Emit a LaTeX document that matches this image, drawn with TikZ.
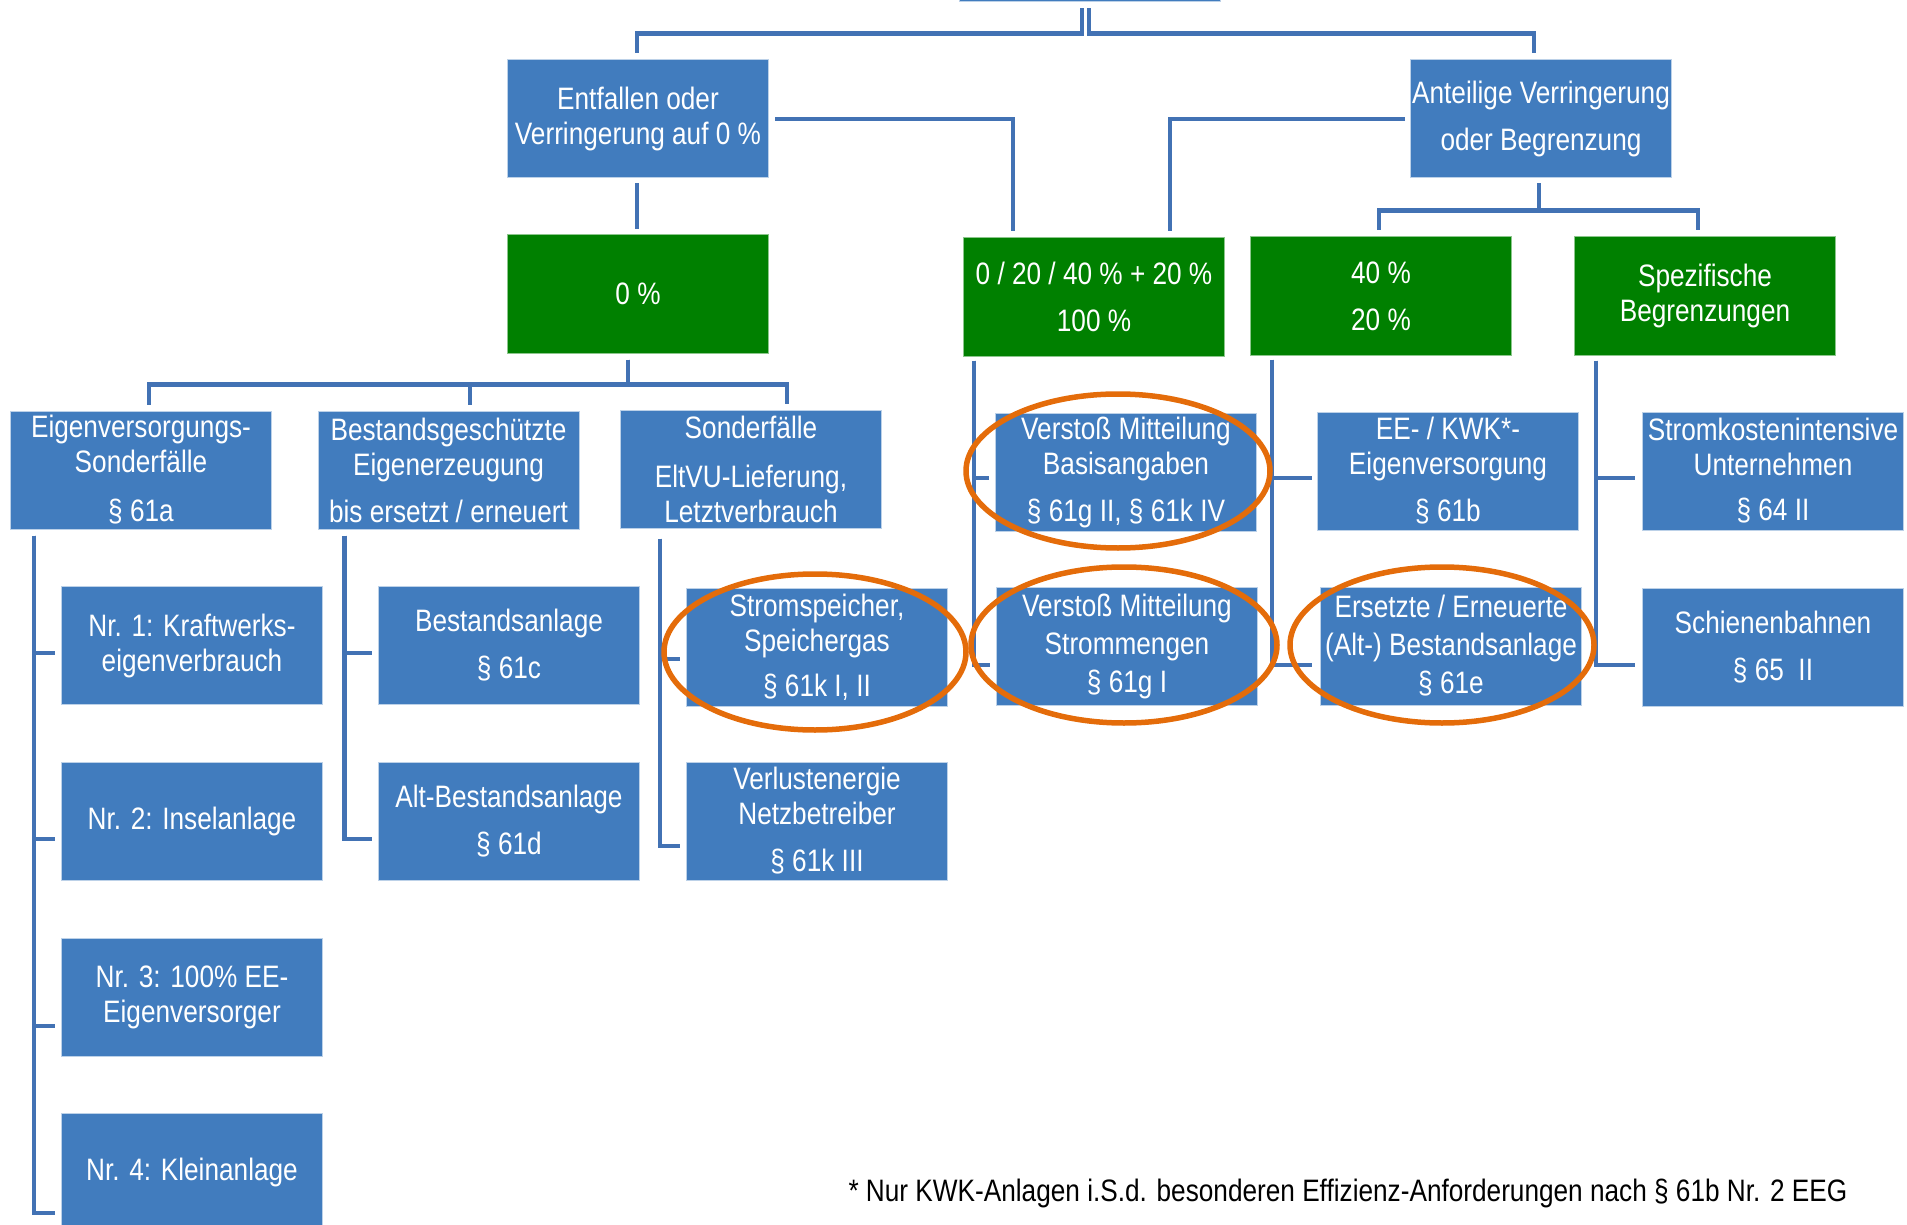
\documentclass[tikz,border=0pt]{standalone}
\usepackage{fontspec}
\setmainfont{Liberation Sans}[FakeStretch=0.845]
\definecolor{boxblue}{RGB}{65,124,190}
\definecolor{lineblue}{RGB}{66,114,180}
\definecolor{boxgreen}{RGB}{0,128,0}
\definecolor{ringorange}{RGB}{228,108,10}
\tikzset{
    box/.style={fill=boxblue, draw=boxblue!35, line width=1pt, text=white, align=center,
        minimum width=261pt, minimum height=118pt, inner sep=0pt, font=\fontsize{31}{35}\selectfont},
    gbox/.style={box, fill=boxgreen, draw=boxgreen!45},
    conn/.style={draw=lineblue, line width=4.5pt},
    ring/.style={draw=ringorange, line width=5.5pt},
}

\begin{document}
\begin{tikzpicture}[x=1pt, y=-1pt]
    \useasboundingbox (0,0) rectangle (1907,1225);
    \clip (0,0) rectangle (1907,1225);

    \node[box] (root) at (1090, -57) {};
    \node[box] (ent) at (638, 119) {Entfallen oder\\Verringerung auf 0 \%};
    \node[box] (ant) at (1541, 119) {Anteilige Verringerung\\[12pt]oder Begrenzung};

    \node[gbox] (p0) at (638, 294) {0 \%};
    \node[gbox] (p100) at (1094, 297) {0 / 20 / 40 \% + 20 \%\\[12pt]100 \%};
    \node[gbox] (p40) at (1381, 296) {40 \%\\[12pt]20 \%};
    \node[gbox] (spez) at (1705, 296) {Spezifische\\Begrenzungen};

    \node[box] (eig) at (141, 470) {Eigenversorgungs-\\Sonderfälle\\[14pt]§ 61a};
    \node[box] (best) at (448.5, 470) {Bestandsgeschützte\\Eigenerzeugung\\[12pt]bis ersetzt / erneuert};
    \node[box] (sond) at (751, 469) {Sonderfälle\\[14pt]EltVU-Lieferung,\\Letztverbrauch};
    \node[box] (vb) at (1126, 472) {Verstoß Mitteilung\\Basisangaben\\[12pt]§ 61g II, § 61k IV};
    \node[box] (eekwk) at (1448, 471) {EE- / KWK*-\\Eigenversorgung\\[12pt]§ 61b};
    \node[box] (skv) at (1773, 471) {Stromkostenintensive\\Unternehmen\\[10pt]§ 64 II};

    \node[box] (nr1) at (192, 645.5) {Nr. 1: Kraftwerks-\\eigenverbrauch};
    \node[box] (nr2) at (192, 821) {Nr. 2: Inselanlage};
    \node[box] (nr3) at (192, 997) {Nr. 3: 100\% EE-\\Eigenversorger};
    \node[box] (nr4) at (192, 1172) {Nr. 4: Kleinanlage};
    \node[box] (banl) at (509, 645.5) {Bestandsanlage\\[12pt]§ 61c};
    \node[box] (alt) at (509, 821) {Alt-Bestandsanlage\\[12pt]§ 61d};
    \node[box] (sps) at (817, 647) {Stromspeicher,\\Speichergas\\[10pt]§ 61k I, II};
    \node[box] (verl) at (817, 821) {Verlustenergie\\Netzbetreiber\\[12pt]§ 61k III};
    \node[box] (vs) at (1127, 646) {Verstoß Mitteilung\\[3pt]Strommengen\\[3pt]§ 61g I};
    \node[box] (ers) at (1451, 646) {Ersetzte / Erneuerte\\[3pt](Alt-) Bestandsanlage\\[3pt]§ 61e};
    \node[box] (sch) at (1773, 647) {Schienenbahnen\\[12pt]§ 65\ \ II};

    \node[anchor=west, font=\fontsize{31}{35}\selectfont] (note) at (845, 1193)
        {* Nur KWK-Anlagen i.S.d. besonderen Effizienz-Anforderungen nach § 61b Nr. 2 EEG};

    \draw[conn] ([xshift=-8pt,yshift=-6pt]root.south) -- ++(0,25) -| ([xshift=-1pt,yshift=6pt]ent.north);
    \draw[conn] ([xshift=-1pt,yshift=-6pt]root.south) -- ++(0,25) -| ([xshift=-7pt,yshift=6pt]ant.north);
    \draw[conn] ([xshift=-1pt,yshift=-5pt]ent.south) -- ([xshift=-1pt,yshift=5pt]p0.north);
    \draw[conn] ([xshift=6pt]ent.east) -| ([xshift=-81pt,yshift=6pt]p100.north);
    \draw[conn] ([xshift=-5pt]ant.west) -| ([xshift=76pt,yshift=6pt]p100.north);
    \draw[conn] ([xshift=-2pt,yshift=-5pt]ant.south) -- ++(0,27) -| ([xshift=-2pt,yshift=6pt]p40.north);
    \draw[conn] ([xshift=-2pt,yshift=-5pt]ant.south) -- ++(0,27) -| ([xshift=-7pt,yshift=6pt]spez.north);

    \draw[conn] ([xshift=-10pt,yshift=-6pt]p0.south) -- ++(0,25) -| ([xshift=8pt,yshift=6pt]eig.north);
    \draw[conn] ([xshift=-10pt,yshift=-6pt]p0.south) -- ++(0,25) -| ([xshift=21.5pt,yshift=6pt]best.north);
    \draw[conn] ([xshift=-10pt,yshift=-6pt]p0.south) -- ++(0,25) -| ([xshift=36pt,yshift=6pt]sond.north);

    \draw[conn] ([xshift=24pt,yshift=-6pt]eig.south west) |- ([xshift=-6pt,yshift=-7.5pt]nr1.west);
    \draw[conn] ([xshift=24pt,yshift=-6pt]eig.south west) |- ([xshift=-6pt,yshift=-18pt]nr2.west);
    \draw[conn] ([xshift=24pt,yshift=-6pt]eig.south west) |- ([xshift=-6pt,yshift=-29pt]nr3.west);
    \draw[conn] ([xshift=24pt,yshift=-6pt]eig.south west) |- ([xshift=-6pt,yshift=-41pt]nr4.west);
    \draw[conn] ([xshift=27pt,yshift=-6pt]best.south west) |- ([xshift=-6pt,yshift=-7.5pt]banl.west);
    \draw[conn] ([xshift=27pt,yshift=-6pt]best.south west) |- ([xshift=-6pt,yshift=-18pt]alt.west);
    \draw[conn] ([xshift=40pt,yshift=-10pt]sond.south west) |- ([xshift=-6pt,yshift=-12pt]sps.west);
    \draw[conn] ([xshift=40pt,yshift=-10pt]sond.south west) |- ([xshift=-6pt,yshift=-25pt]verl.west);
    \draw[conn] ([xshift=11pt,yshift=-4pt]p100.south west) |- ([xshift=-6pt,yshift=-6pt]vb.west);
    \draw[conn] ([xshift=11pt,yshift=-4pt]p100.south west) |- ([xshift=-6pt,yshift=-19pt]vs.west);
    \draw[conn] ([xshift=22pt,yshift=-4pt]p40.south west) |- ([xshift=-5pt,yshift=-7pt]eekwk.west);
    \draw[conn] ([xshift=22pt,yshift=-4pt]p40.south west) |- ([xshift=-8pt,yshift=-19pt]ers.west);
    \draw[conn] ([xshift=22pt,yshift=-5pt]spez.south west) |- ([xshift=-7pt,yshift=-7pt]skv.west);
    \draw[conn] ([xshift=22pt,yshift=-5pt]spez.south west) |- ([xshift=-7pt,yshift=-18pt]sch.west);

    \draw[ring] ([xshift=-2pt,yshift=-5pt]sps.center) ellipse [x radius=151pt, y radius=78pt];
    \draw[ring] ([xshift=-8pt,yshift=1pt]vb.center) ellipse [x radius=152pt, y radius=77pt];
    \draw[ring] ([xshift=-3pt,yshift=1pt]vs.center) ellipse [x radius=153pt, y radius=78pt];
    \draw[ring] ([xshift=-9pt,yshift=1pt]ers.center) ellipse [x radius=152pt, y radius=78pt];
\end{tikzpicture}
\end{document}
